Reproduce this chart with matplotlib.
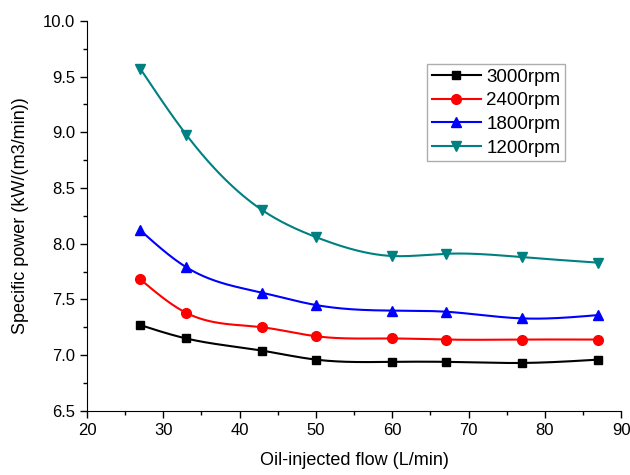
import numpy as np
import matplotlib.pyplot as plt
from matplotlib.ticker import MultipleLocator

plt.rcParams["font.family"] = ["Liberation Sans", "DejaVu Sans"]

flow = [27, 33, 43, 50, 60, 67, 77, 87]
rpm3000 = [7.27, 7.15, 7.04, 6.96, 6.94, 6.94, 6.93, 6.96]
rpm2400 = [7.68, 7.38, 7.25, 7.17, 7.15, 7.14, 7.14, 7.14]
rpm1800 = [8.12, 7.79, 7.56, 7.45, 7.40, 7.39, 7.33, 7.36]
rpm1200 = [9.57, 8.98, 8.30, 8.06, 7.89, 7.91, 7.88, 7.83]


def natural_spline(x, y, n=300):
    """Natural cubic spline through (x, y) for a smooth connecting line."""
    x = np.asarray(x, float)
    y = np.asarray(y, float)
    k = len(x)
    h = np.diff(x)
    A = np.zeros((k, k))
    r = np.zeros(k)
    A[0, 0] = A[-1, -1] = 1.0
    for i in range(1, k - 1):
        A[i, i - 1] = h[i - 1]
        A[i, i] = 2 * (h[i - 1] + h[i])
        A[i, i + 1] = h[i]
        r[i] = 3 * ((y[i + 1] - y[i]) / h[i] - (y[i] - y[i - 1]) / h[i - 1])
    c = np.linalg.solve(A, r)
    b = (np.diff(y) / h) - h * (2 * c[:-1] + c[1:]) / 3
    d = np.diff(c) / (3 * h)
    xs = np.linspace(x[0], x[-1], n)
    idx = np.clip(np.searchsorted(x, xs) - 1, 0, k - 2)
    dx = xs - x[idx]
    ys = y[idx] + b[idx] * dx + c[idx] * dx**2 + d[idx] * dx**3
    return xs, ys


series = [
    ("3000rpm", rpm3000, "black", "s", 6),
    ("2400rpm", rpm2400, "#FF0000", "o", 7),
    ("1800rpm", rpm1800, "#0000FF", "^", 7.5),
    ("1200rpm", rpm1200, "#008080", "v", 7.5),
]

fig = plt.figure(figsize=(6.3, 4.75), dpi=100)
ax = fig.add_axes([0.138, 0.135, 0.848, 0.821])

for label, vals, color, marker, ms in series:
    xs, ys = natural_spline(flow, vals)
    ax.plot(xs, ys, color=color, lw=1.5, zorder=2)
    ax.plot(flow, vals, linestyle="none", marker=marker, color=color,
            markersize=ms, zorder=3)
    # legend proxy
    ax.plot([], [], color=color, lw=1.5, marker=marker, markersize=ms,
            label=label)

ax.set_xlim(20, 90)
ax.set_ylim(6.5, 10.0)
ax.xaxis.set_major_locator(MultipleLocator(10))
ax.xaxis.set_minor_locator(MultipleLocator(5))
ax.yaxis.set_major_locator(MultipleLocator(0.5))
ax.yaxis.set_minor_locator(MultipleLocator(0.25))
ax.yaxis.set_major_formatter(plt.FormatStrFormatter("%.1f"))

ax.spines["top"].set_visible(False)
ax.spines["right"].set_visible(False)
ax.tick_params(which="major", direction="out", length=5, width=1, labelsize=12)
ax.tick_params(which="minor", direction="out", length=3, width=1)

ax.set_xlabel("Oil-injected flow (L/min)", fontsize=13, labelpad=10)
ax.set_ylabel("Specific power (kW/(m3/min))", fontsize=13, labelpad=10)

ax.legend(loc="upper right", bbox_to_anchor=(0.895, 0.89), fontsize=13.5,
          frameon=True, fancybox=False, edgecolor="#999999",
          handlelength=2.6, handletextpad=0.3, borderpad=0.25,
          labelspacing=0.35, borderaxespad=0)

fig.savefig("out.png", dpi=100)
